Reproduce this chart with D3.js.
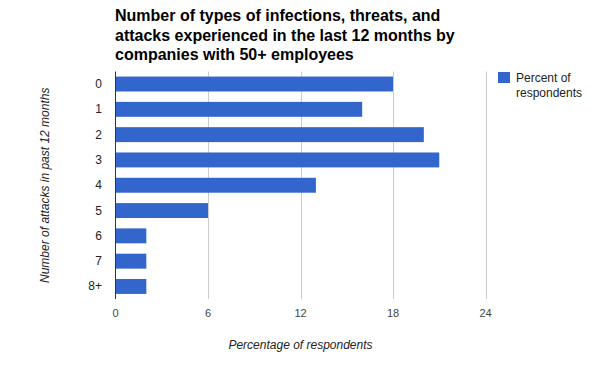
<!DOCTYPE html>
<html>
<head>
<meta charset="utf-8">
<script src="https://cdn.jsdelivr.net/npm/d3@7"></script>
<style>
  body { margin: 0; background: #fff; }
  text { font-family: Arial, "Liberation Sans", sans-serif; }
</style>
</head>
<body>
<svg width="600" height="371"></svg>
<script>
const categories = ["0", "1", "2", "3", "4", "5", "6", "7", "8+"];
const percents = [18, 16, 20, 21, 13, 6, 2, 2, 2];
const xTicks = [0, 6, 12, 18, 24];
const titleLines = [
  "Number of types of infections, threats, and",
  "attacks experienced in the last 12 months by",
  "companies with 50+ employees"
];
const legendLines = ["Percent of", "respondents"];

const svg = d3.select("svg");
const plotLeft = 115.5, plotRight = 485.5, plotTop = 71.5, plotBottom = 299;

const x = d3.scaleLinear().domain([0, 24]).range([plotLeft, plotRight]);
const y = d3.scaleBand().domain(categories).range([plotTop, plotBottom]).paddingInner(0.41).paddingOuter(0.2);

// title
svg.append("g").selectAll("text").data(titleLines).join("text")
  .attr("x", 115).attr("y", (d, i) => 21 + i * 19.5)
  .attr("font-size", "16px").attr("font-weight", "bold").attr("fill", "#000")
  .text(d => d);

// gridlines
svg.append("g").selectAll("line").data(xTicks.slice(1)).join("line")
  .attr("x1", d => Math.round(x(d)) + 0.5).attr("x2", d => Math.round(x(d)) + 0.5)
  .attr("y1", plotTop).attr("y2", plotBottom)
  .attr("stroke", "#cccccc");

// bars
svg.append("g").selectAll("rect").data(percents).join("rect")
  .attr("x", x(0))
  .attr("y", (d, i) => y(categories[i]))
  .attr("width", d => x(d) - x(0))
  .attr("height", y.bandwidth())
  .attr("fill", "#3366cc");

// baseline
svg.append("line")
  .attr("x1", plotLeft).attr("x2", plotLeft).attr("y1", plotTop).attr("y2", plotBottom)
  .attr("stroke", "#333");

// x tick labels
svg.append("g").selectAll("text").data(xTicks).join("text")
  .attr("x", d => x(d)).attr("y", 317)
  .attr("text-anchor", "middle").attr("font-size", "11px").attr("fill", "#444")
  .text(d => d);

// y tick labels
svg.append("g").selectAll("text").data(categories).join("text")
  .attr("x", 102).attr("y", d => y(d) + y.bandwidth() / 2 + 4)
  .attr("text-anchor", "end").attr("font-size", "12px").attr("fill", "#222")
  .text(d => d);

// axis titles
svg.append("text")
  .attr("x", (plotLeft + plotRight) / 2).attr("y", 349)
  .attr("text-anchor", "middle").attr("font-size", "12px").attr("font-style", "italic").attr("fill", "#222")
  .text("Percentage of respondents");

svg.append("text")
  .attr("transform", `translate(49, ${(plotTop + plotBottom) / 2}) rotate(-90)`)
  .attr("text-anchor", "middle").attr("font-size", "12px").attr("font-style", "italic").attr("fill", "#222")
  .text("Number of attacks in past 12 months");

// legend
svg.append("rect").attr("x", 498).attr("y", 72).attr("width", 12).attr("height", 11).attr("fill", "#3366cc");
svg.append("g").selectAll("text").data(legendLines).join("text")
  .attr("x", 516).attr("y", (d, i) => 82 + i * 15)
  .attr("font-size", "12px").attr("fill", "#222")
  .text(d => d);
</script>
</body>
</html>
